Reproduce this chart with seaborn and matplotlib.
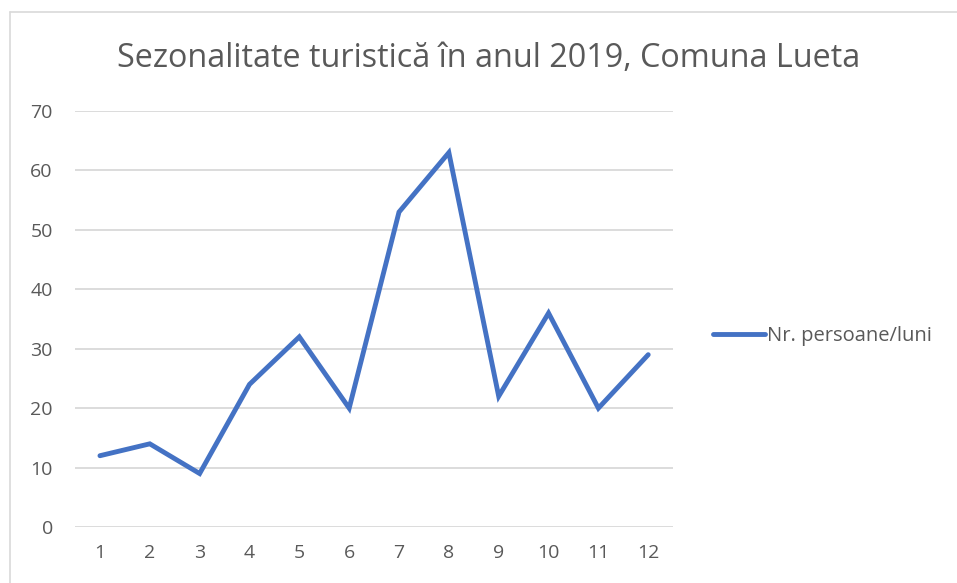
import matplotlib
matplotlib.use("Agg")
import matplotlib.pyplot as plt
import seaborn as sns
import pandas as pd
from matplotlib.lines import Line2D

# data
months = [1, 2, 3, 4, 5, 6, 7, 8, 9, 10, 11, 12]
visitors = [12, 14, 9, 24, 32, 20, 53, 63, 22, 36, 20, 29]
series_name = "Nr. persoane/luni"
title = "Sezonalitate turistică în anul 2019, Comuna Lueta"

sns.set_theme(style="white")
plt.rcParams['font.family'] = ['Open Sans', 'DejaVu Sans']

text_color = "#595959"
grid_color = "#d9d9d9"
line_color = "#4472C4"

df = pd.DataFrame({"luna": months, "persoane": visitors})

fig = plt.figure(figsize=(9.57, 5.83), dpi=100)
ax = fig.add_axes([0.0784, 0.096, 0.625, 0.7136])

sns.lineplot(data=df, x="luna", y="persoane", ax=ax, color=line_color,
             linewidth=3.5, solid_joinstyle="miter", solid_capstyle="round")

ax.set_xlim(0.5, 12.5)
ax.set_ylim(0, 70)
ax.set_yticks(range(0, 71, 10))
ax.set_xticks(months)
ax.yaxis.grid(True, color=grid_color, linewidth=1.3)
ax.set_axisbelow(True)
for s in ax.spines.values():
    s.set_visible(False)
ax.tick_params(axis="both", length=0, labelsize=14, colors=text_color)
ax.tick_params(axis="y", pad=16)
ax.tick_params(axis="x", pad=12)
ax.set_xlabel("")
ax.set_ylabel("")

fig.text(0.511, 0.9, title, ha="center", va="center", fontsize=23.3, color=text_color)

handle = Line2D([0], [0], color=line_color, linewidth=3.5, solid_capstyle="round")
fig.legend([handle], [series_name], loc="center left", bbox_to_anchor=(0.7256, 0.424),
           frameon=False, fontsize=14.5, labelcolor=text_color, handlelength=2.6,
           handletextpad=0.12)

# chart frame (only top and left edges visible in the crop)
fig.add_artist(Line2D([10 / 957, 10 / 957], [0, 1 - 12 / 583], color="#d9d9d9", linewidth=1.2))
fig.add_artist(Line2D([10 / 957, 1], [1 - 12 / 583, 1 - 12 / 583], color="#d9d9d9", linewidth=1.2))

fig.savefig("out.png", dpi=100, facecolor="white")
